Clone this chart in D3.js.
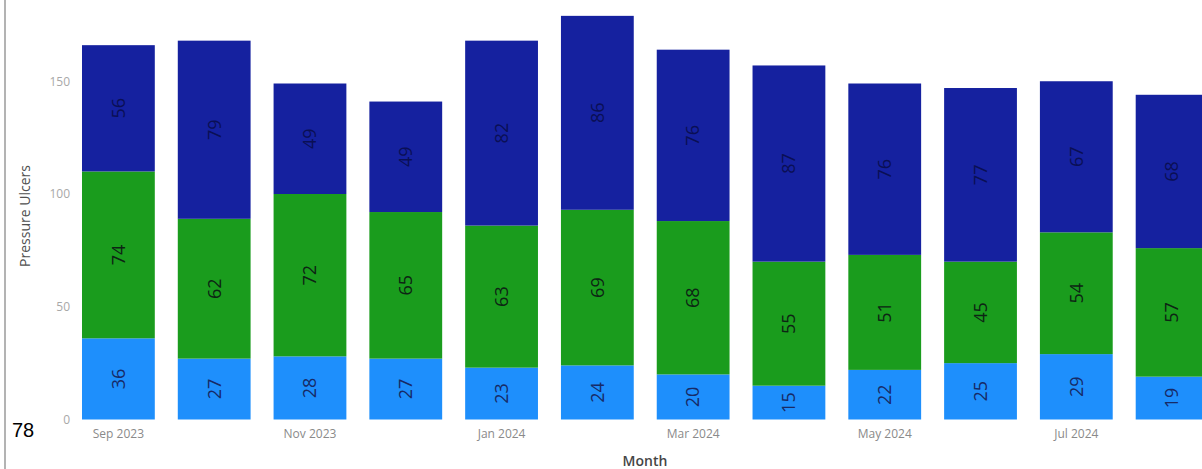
<!DOCTYPE html>
<html>
<head>
<meta charset="utf-8">
<script src="https://cdn.jsdelivr.net/npm/d3@7"></script>
<style>
  html, body { margin: 0; padding: 0; background: #fff; }
  svg { display: block; }
</style>
</head>
<body>
<svg id="chart" width="1202" height="469"></svg>
<script>
// Monthly pressure ulcer counts, stacked by category (bottom to top)
const months = ["Sep 2023", "Oct 2023", "Nov 2023", "Dec 2023", "Jan 2024", "Feb 2024",
                "Mar 2024", "Apr 2024", "May 2024", "Jun 2024", "Jul 2024", "Aug 2024"];
const seriesLow  = [36, 27, 28, 27, 23, 24, 20, 15, 22, 25, 29, 19];
const seriesMid  = [74, 62, 72, 65, 63, 69, 68, 55, 51, 45, 54, 57];
const seriesHigh = [56, 79, 49, 49, 82, 86, 76, 87, 76, 77, 67, 68];
const seriesKeys = ["low", "mid", "high"];
const xTickLabels = ["Sep 2023", "Nov 2023", "Jan 2024", "Mar 2024", "May 2024", "Jul 2024"];
const yTicks = [0, 50, 100, 150];

const colors = { low: "#1e8ffc", mid: "#1a9c1d", high: "#15219f" };
const labelColors = { low: "#172a66", mid: "#0d2414", high: "#0a0f55" };

const rows = months.map((m, i) => ({ month: m, low: seriesLow[i], mid: seriesMid[i], high: seriesHigh[i] }));
const stacked = d3.stack().keys(seriesKeys)(rows);

const svg = d3.select("#chart");
const font = "'Open Sans', 'Noto Sans', sans-serif";

const x = d3.scaleBand()
  .domain(months)
  .range([70.5, 1220])
  .paddingInner(0.24)
  .paddingOuter(0.12);

const y = d3.scaleLinear()
  .domain([0, 150])
  .range([419.5, 81.25]);

// Frame edge on the left
svg.append("line")
  .attr("x1", 5).attr("x2", 5).attr("y1", 0).attr("y2", 469)
  .attr("stroke", "#9a9a9a").attr("stroke-width", 1.5);

// Stacked bars
const layers = svg.append("g").selectAll("g")
  .data(stacked)
  .join("g")
  .attr("fill", d => colors[d.key]);

layers.selectAll("rect")
  .data(d => d.map(p => ({ p, key: d.key })))
  .join("rect")
  .attr("x", d => x(d.p.data.month))
  .attr("width", x.bandwidth())
  .attr("y", d => y(d.p[1]))
  .attr("height", d => y(d.p[0]) - y(d.p[1]));

// Segment value labels, rotated
const labels = svg.append("g");
stacked.forEach(layer => {
  layer.forEach(p => {
    const cx = x(p.data.month) + x.bandwidth() / 2;
    const cy = (y(p[0]) + y(p[1])) / 2;
    labels.append("text")
      .attr("transform", `translate(${cx},${cy}) rotate(-90)`)
      .attr("text-anchor", "middle")
      .attr("dy", "0.35em")
      .attr("font-family", font)
      .attr("font-size", 18)
      .attr("fill", labelColors[layer.key])
      .text(p.data[layer.key]);
  });
});

// Y axis (labels only)
const yAxis = d3.axisLeft(y).tickValues(yTicks).tickSize(0).tickPadding(0);
const gy = svg.append("g").attr("transform", "translate(70,0)").call(yAxis);
gy.select(".domain").remove();
gy.selectAll("text")
  .attr("font-family", font)
  .attr("font-size", 12)
  .attr("fill", "#a8a8a8");

// X axis (every other month labelled)
const xAxis = d3.axisBottom(x).tickValues(xTickLabels).tickSize(0).tickPadding(0);
const gx = svg.append("g").attr("transform", "translate(0,429)").call(xAxis);
gx.select(".domain").remove();
gx.selectAll("text")
  .attr("font-family", font)
  .attr("font-size", 12)
  .attr("fill", "#8a8a8a");

// Axis titles
svg.append("text")
  .attr("transform", "translate(30,216) rotate(-90)")
  .attr("text-anchor", "middle")
  .attr("font-family", font)
  .attr("font-size", 14)
  .attr("fill", "#505050")
  .text("Pressure Ulcers");

svg.append("text")
  .attr("x", 645).attr("y", 466)
  .attr("text-anchor", "middle")
  .attr("font-family", font)
  .attr("font-size", 14)
  .attr("font-weight", 600)
  .attr("fill", "#454545")
  .text("Month");

// Page number
svg.append("text")
  .attr("x", 12).attr("y", 437)
  .attr("font-family", "'Liberation Sans', Arial, sans-serif")
  .attr("font-size", 20)
  .attr("fill", "#000")
  .text("78");
</script>
</body>
</html>
